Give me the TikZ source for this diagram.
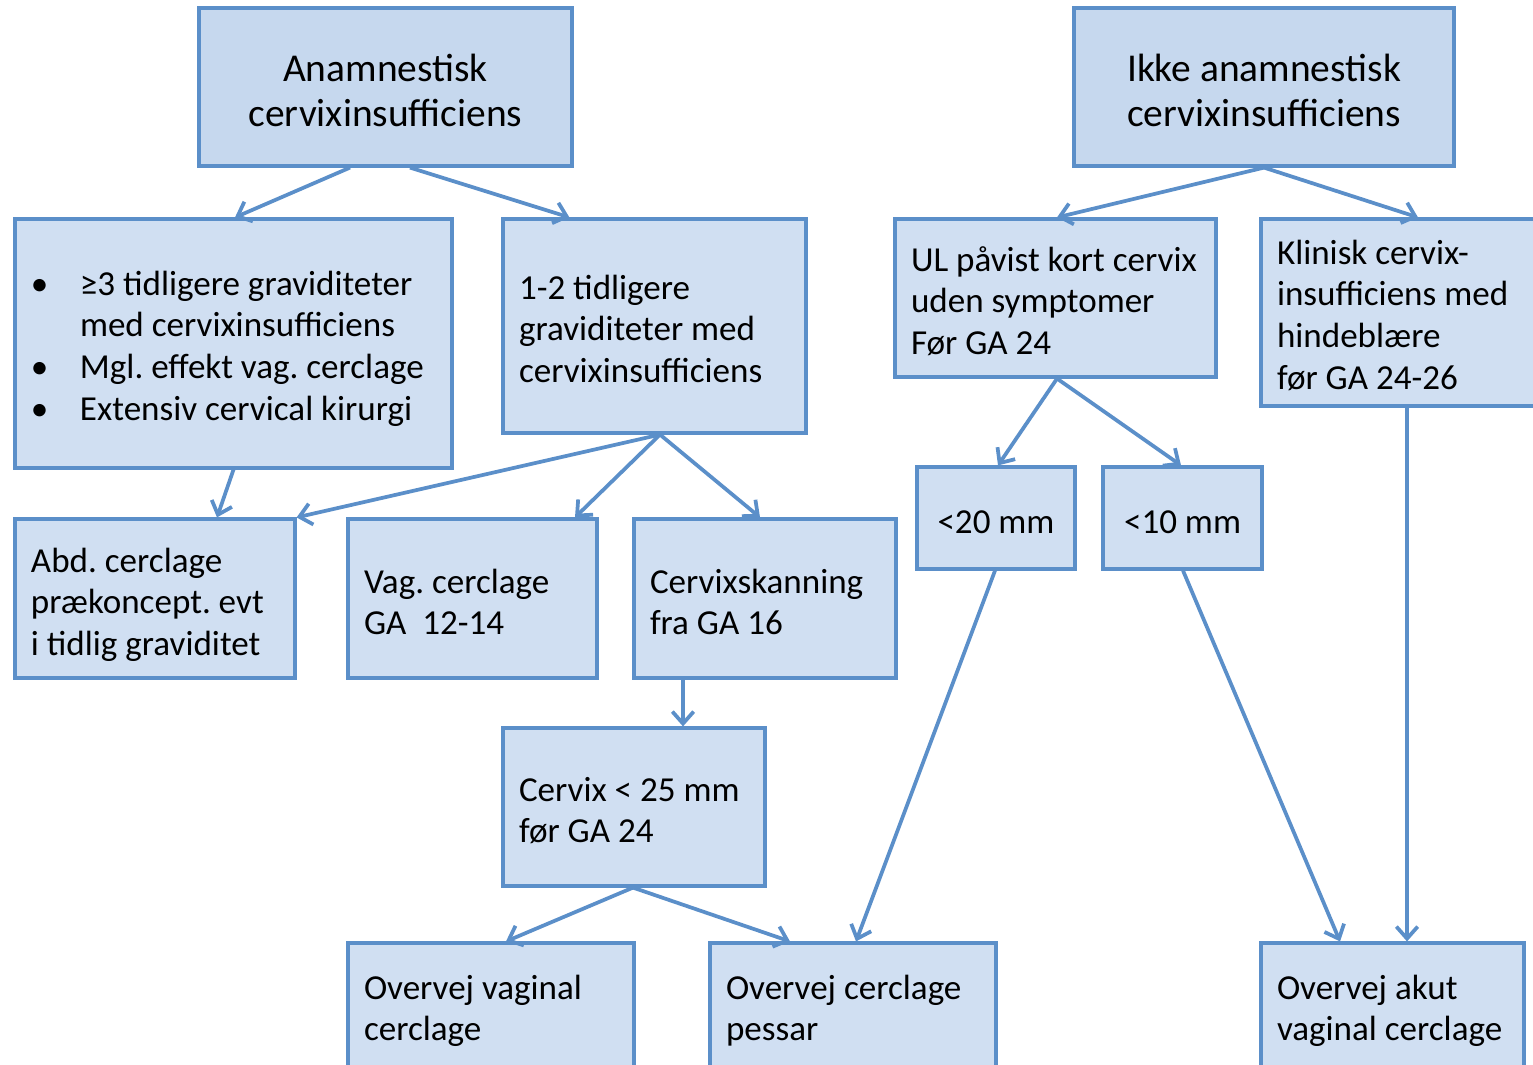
\documentclass[tikz,border=0pt]{standalone}
\usepackage{fontspec}
\setmainfont{Carlito}
\usetikzlibrary{arrows.meta,calc,shadows}
\frenchspacing

\definecolor{boxfill}{RGB}{208,223,242}
\definecolor{headfill}{RGB}{198,216,238}
\definecolor{boxline}{RGB}{91,143,201}

\newcommand{\bul}{\makebox[36.75pt][l]{•}}
\newcommand{\ind}{\hspace*{36.75pt}}

\tikzset{every picture/.style={line width=0.75pt}}
\tikzset{
  box/.style={draw=boxline, fill=boxfill, line width=2.4pt, rectangle, inner xsep=12pt,
    align=flush left, font=\fontsize{26.3}{31.3}\selectfont,
    execute at begin node={\spaceskip=0pt\relax\xspaceskip=0pt\relax},
    drop shadow={shadow xshift=1.5pt, shadow yshift=-1.5pt, fill=black!40, opacity=0.35}},
  textdrop/.style={text height=20pt, text depth=#1},
  headbox/.style={box, fill=headfill, align=center, font=\fontsize{29.6}{33.75}\selectfont,
    text height=66pt, text depth=7.5pt},
  smallbox/.style={box, align=center, text height=30pt, text depth=7.5pt},
  lowbox/.style={box, textdrop=54.5pt},
  arr/.style={draw=boxline, line width=2.8pt, -{Straight Barb[length=9pt,width=16pt]}}
}

\begin{document}
\begin{tikzpicture}[x=0.75pt,y=0.75pt,yscale=-1,xscale=1]
	\useasboundingbox (0,0) rectangle (1533,1064);

	% top row
	\node[headbox, minimum width=279.75pt, minimum height=118.5pt] (anam) at (385.5,87) {Anamnestisk\\cervixinsufficiens};
	\node[headbox, minimum width=285pt, minimum height=118.5pt] (ikke) at (1264,87) {Ikke anamnestisk\\cervixinsufficiens};

	% second row
	\node[box, textdrop=92.75pt, minimum width=327.75pt, minimum height=186.75pt, text width=303.75pt] (hist) at (233.5,343.5) {\bul≥3 tidligere graviditeter\\\ind med cervixinsufficiens\\\bul Mgl. effekt vag. cerclage\\\bul Extensiv cervical kirurgi};
	\node[box, textdrop=60.5pt, minimum width=227.25pt, minimum height=160.5pt, text width=203.25pt] (few) at (654.5,326) {1-2 tidligere\\graviditeter med\\cervixinsufficiens};
	\node[box, textdrop=60.5pt, minimum width=240.75pt, minimum height=118.5pt, text width=216.75pt] (ul) at (1055.5,298) {UL påvist kort cervix\\uden symptomer\\Før GA 24};
	\node[box, textdrop=92.75pt, minimum width=219pt, minimum height=140.25pt, text width=195pt] (klin) at (1407,312.5) {Klinisk cervix-\\insufficiens med\\hindeblære\\før GA 24-26};

	% third row
	\node[box, textdrop=59.75pt, minimum width=210pt, minimum height=119.25pt, text width=186pt] (abd) at (155,598.5) {Abd. cerclage\\prækoncept. evt\\i tidlig graviditet};
	\node[box, textdrop=28.25pt, minimum width=186.75pt, minimum height=119.25pt, text width=162.75pt] (vag) at (472.5,598.5) {Vag. cerclage\\GA\ \ 12-14};
	\node[box, textdrop=28.25pt, minimum width=196.5pt, minimum height=119.25pt, text width=172.5pt] (scan) at (765,598.5) {Cervixskanning\\fra GA 16};
	\node[smallbox, minimum width=118.5pt, minimum height=76.5pt] (lt20) at (996,518) {<20 mm};
	\node[smallbox, minimum width=119.25pt, minimum height=76.5pt] (lt10) at (1182.5,518) {<10 mm};

	% fourth row
	\node[box, textdrop=29pt, minimum width=196.5pt, minimum height=118.5pt, text width=172.5pt] (c25) at (634,807) {Cervix < 25 mm\\før GA 24};

	% bottom row
	\node[lowbox, minimum width=214.5pt, minimum height=118.5pt, text width=190.5pt] (ovag) at (491,1022) {Overvej vaginal\\cerclage};
	\node[lowbox, minimum width=214.5pt, minimum height=118.5pt, text width=190.5pt] (ocer) at (853,1022) {Overvej cerclage\\pessar};
	\node[lowbox, minimum width=197.25pt, minimum height=118.5pt, text width=173.25pt] (oakut) at (1392.5,1022) {Overvej akut\\vaginal cerclage};

	% arrows
	\draw[arr] ($(anam.south)+(-35.5,0)$) -- ($(hist.north)+(1.5,0)$);
	\draw[arr] ($(anam.south)+(24.5,0)$) -- ($(few.north west)+(68,0)$);
	\draw[arr] (ikke.south) -- ($(ul.north)+(1.5,0)$);
	\draw[arr] (ikke.south) -- ($(klin.north)+(11,0)$);
	\draw[arr] (hist.south) -- ($(abd.north)+(62,0)$);
	\draw[arr] ($(few.south)+(5.5,0)$) -- (abd.north east);
	\draw[arr] ($(few.south)+(5.5,0)$) -- ($(vag.north)+(102.5,0)$);
	\draw[arr] ($(few.south)+(5.5,0)$) -- ($(scan.north)+(-5,0)$);
	\draw[arr] ($(ul.south)+(1.5,0)$) -- ($(lt20.north)+(2,0)$);
	\draw[arr] ($(ul.south)+(1.5,0)$) -- ($(lt10.north)+(-1.5,0)$);
	\draw[arr] (klin.south) -- ($(oakut.north)+(14.5,0)$);
	\draw[arr] ($(scan.south)+(-82,0)$) -- ($(c25.north)+(49,0)$);
	\draw[arr] ($(c25.south)+(-1,0)$) -- ($(ovag.north)+(15,0)$);
	\draw[arr] ($(c25.south)+(-1,0)$) -- ($(ocer.north)+(-63,0)$);
	\draw[arr] ($(lt20.south)+(-1,0)$) -- ($(ocer.north)+(3,0)$);
	\draw[arr] ($(lt10.south)+(0.5,0)$) -- ($(oakut.north)+(-52.5,0)$);

\end{tikzpicture}
\end{document}
